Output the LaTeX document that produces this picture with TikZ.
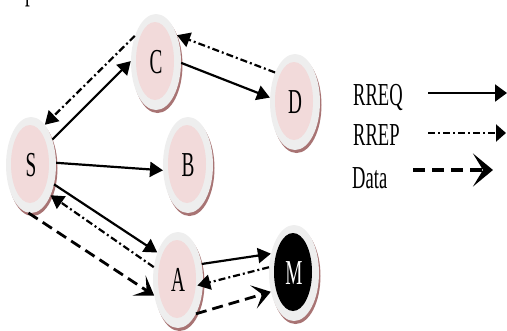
\documentclass[tikz,border=0pt]{standalone}
\usepackage{fontspec}
\setmainfont{Liberation Serif}
\usetikzlibrary{shapes.geometric,arrows.meta,shadows}
\definecolor{ringgrey}{HTML}{EEEEEE}
\definecolor{innerpink}{HTML}{F2DADA}
\definecolor{rimbrown}{HTML}{A87474}
\newcommand{\lbl}[1]{\fontsize{35}{37}\selectfont\scalebox{0.55}[1]{#1}}
\newcommand{\leglbl}[1]{\fontsize{32}{34}\selectfont\scalebox{0.58}[1]{#1}}
\tikzset{
  ball/.style={ellipse, minimum width=50pt, minimum height=96pt, inner sep=0pt,
    fill=ringgrey, draw=none,
    drop shadow={shadow xshift=1.5pt, shadow yshift=-3pt, fill=rimbrown, opacity=1},
    path picture={\fill[#1] ([xshift=-1pt,yshift=1pt]path picture bounding box.center) ellipse (19pt and 39pt);}},
  ball/.default=innerpink,
  rreq/.style={line width=2.2pt, -{Triangle[length=13pt,width=15pt]}},
  rrep/.style={line width=2.2pt, dash pattern=on 7pt off 3pt on 2pt off 3pt,
    -{Triangle[length=13pt,width=15pt]}},
  data/.style={line width=2.8pt, dash pattern=on 11pt off 6pt,
    -{Stealth[length=18pt,width=24pt,inset=9pt]}},
  legtext/.style={anchor=west, inner sep=0pt}
}
\begin{document}
\begin{tikzpicture}[x=1pt,y=-1pt]
\useasboundingbox (0,0) rectangle (507,330);
\node[anchor=base west, inner sep=0pt] (frag) at (25,-1) {\lbl{p}};
% nodes
\node[ball] (C) at (156,62) {\raisebox{-4pt}{\lbl{C}}};
\node[ball] (D) at (295,102) {\raisebox{-4pt}{\lbl{D}}};
\node[ball] (S) at (31,165) {\raisebox{-1pt}{\lbl{S}}};
\node[ball] (B) at (188,165) {\raisebox{-2pt}{\lbl{B}}};
\node[ball] (A) at (178,280) {\raisebox{-4pt}{\lbl{A}}};
\node[ball=black] (M) at (294,273) {\raisebox{-4pt}{\color{white}\lbl{M}}};
% RREQ
\draw[rreq] (S.50) -- (C.178);
\draw[rreq] (C.-2) -- (D.170);
\draw[rreq] (S.5) -- (B.192);
\draw[rreq] (S.-40) -- (A.127);
\draw[rreq] (A.34) -- (M.140);
% RREP
\draw[rrep] (C.129) -- (S.71);
\draw[rrep] (D.124) -- (C.52);
\draw[rrep] (A.152) -- (S.-57);
\draw[rrep, shorten >=-6pt] (M.167) -- (A.-9);
% Data
\draw[data] (S.-93) -- (A.213);
\draw[data] (A.-62) -- (M.219);
% legend
\node[legtext] (lq) at (353,97) {\leglbl{RREQ}};
\node[legtext] (lp) at (353,135) {\leglbl{RREP}};
\node[legtext] (ld) at (352,178) {\leglbl{Data}};
\coordinate (q1) at (428,93); \coordinate (q2) at (507,93);
\coordinate (p1) at (428,133); \coordinate (p2) at (506,133);
\coordinate (d1) at (413,170); \coordinate (d2) at (493,170);
\draw[rreq, -{Triangle[length=12pt,width=17pt]}] (q1) -- (q2);
\draw[rrep, -{Triangle[length=10pt,width=17pt]}] (p1) -- (p2);
\draw[data, line width=3.4pt, dash pattern=on 12pt off 7pt, -{Stealth[length=20pt,width=33pt,inset=10pt]}] (d1) -- (d2);
\end{tikzpicture}
\end{document}
